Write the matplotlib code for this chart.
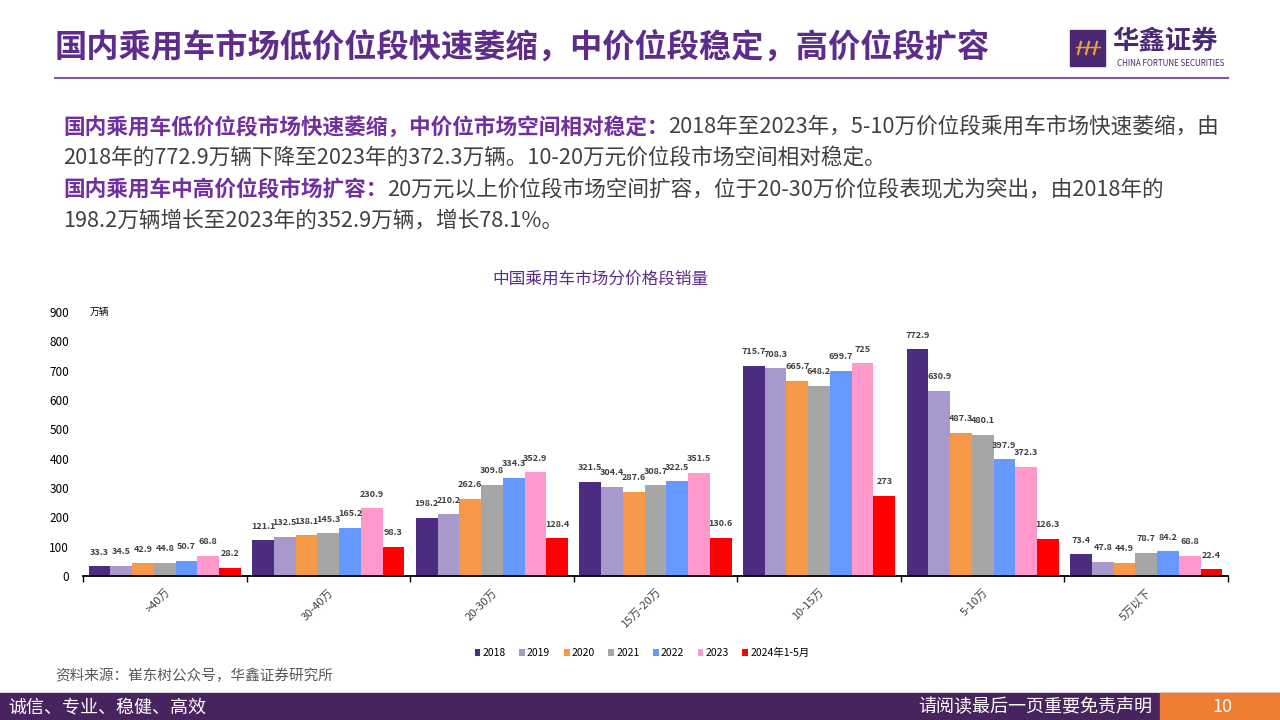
import matplotlib.pyplot as plt
import numpy as np
from matplotlib.patches import Rectangle

plt.rcParams['font.family'] = ['Noto Sans CJK SC', 'DejaVu Sans']

# data
categories = [">40万", "30-40万", "20-30万", "15万-20万", "10-15万", "5-10万", "5万以下"]
series_names = ["2018", "2019", "2020", "2021", "2022", "2023", "2024年1-5月"]
v2018 = [33.3, 121.1, 198.2, 321.5, 715.7, 772.9, 73.4]
v2019 = [34.5, 132.5, 210.2, 304.4, 708.3, 630.9, 47.8]
v2020 = [42.9, 138.1, 262.6, 287.6, 665.7, 487.3, 44.9]
v2021 = [44.8, 145.3, 309.8, 308.7, 648.2, 480.1, 78.7]
v2022 = [50.7, 165.2, 334.3, 322.5, 699.7, 397.9, 84.2]
v2023 = [68.8, 230.9, 352.9, 351.5, 725, 372.3, 68.8]
v2024 = [28.2, 98.3, 128.4, 130.6, 273, 126.3, 22.4]
series = [v2018, v2019, v2020, v2021, v2022, v2023, v2024]
colors = ["#4B2C80", "#A899CC", "#F59848", "#A6A6A6", "#6699FF", "#FF99CC", "#FF0000"]
yticks = [0, 100, 200, 300, 400, 500, 600, 700, 800, 900]

purple = "#5E2D8C"
W, H = 1280, 720
fig = plt.figure(figsize=(12.8, 7.2), dpi=100)

# header
fig.text(55/W, 1 - 48/H, "国内乘用车市场低价位段快速萎缩，中价位段稳定，高价位段扩容",
         fontsize=23.2, fontweight='bold', color=purple, va='center', ha='left')
fig.add_artist(plt.Line2D([55/W, 1228/W], [1 - 78/H, 1 - 78/H], color="#7E5AA2", lw=1.5))
fig.add_artist(Rectangle((1070/W, 1 - 66/H), 35/W, 36/H, color="#4A2873", transform=fig.transFigure))
# small logo strokes
for dx in [1078, 1086, 1094]:
    fig.add_artist(plt.Line2D([dx/W, (dx + 3)/W], [1 - 54/H, 1 - 42/H], color="#F0A030", lw=1.6))
    fig.add_artist(plt.Line2D([(dx - 2)/W, (dx + 6)/W], [1 - 47/H, 1 - 47/H], color="#F0A030", lw=1))
fig.text(1112/W, 1 - 41/H, "华鑫证券", fontsize=19, color="#4A2873", fontweight='bold', va='center')
fig.text(1117/W, 1 - 63/H, "CHINA FORTUNE SECURITIES", fontsize=5.8, color="#4A2873", va='center')

# body text
lines = [
    ("国内乘用车低价位段市场快速萎缩，中价位市场空间相对稳定：", "2018年至2023年，5-10万价位段乘用车市场快速萎缩，由"),
    ("", "2018年的772.9万辆下降至2023年的372.3万辆。10-20万元价位段市场空间相对稳定。"),
    ("国内乘用车中高价位段市场扩容：", "20万元以上价位段市场空间扩容，位于20-30万价位段表现尤为突出，由2018年的"),
    ("", "198.2万辆增长至2023年的352.9万辆，增长78.1%。"),
]
ys = [127, 158, 190, 221]
fs_body = 15.6
leads = []
for (lead, rest), y in zip(lines, ys):
    t1 = fig.text(63/W, 1 - y/H, lead, fontsize=fs_body, fontweight='bold', color="#7030A0",
                  va='center', ha='left')
    leads.append((t1, rest, y))
fig.canvas.draw()
renderer = fig.canvas.get_renderer()
for t1, rest, y in leads:
    x1 = t1.get_window_extent(renderer).x1 if t1.get_text() else 63
    fig.text(x1/W, 1 - y/H, rest, fontsize=fs_body, color="#404040", va='center', ha='left')

# chart
ax = fig.add_axes([83/W, 144/H, 1145/W, 264/H])
n = len(series)
group_w = 0.93
bw = group_w / n
x = np.arange(len(categories))
for i, (vals, c, name) in enumerate(zip(series, colors, series_names)):
    pos = x - group_w/2 + bw*(i + 0.5)
    bars = ax.bar(pos, vals, width=bw, color=c, label=name)
    labels = [f"{v:g}" for v in vals]
    ax.bar_label(bars, labels=labels, padding=7, fontsize=6.5, fontweight='bold', color="#404040")

ax.set_xlim(-0.5, len(categories) - 0.5)
ax.set_ylim(0, 900)
ax.set_yticks(yticks)
ax.tick_params(axis='y', length=0, pad=10, labelsize=8.5)
ax.set_xticks(x)
ax.set_xticklabels(categories, rotation=45, ha='right', va='top', rotation_mode='anchor',
                   fontsize=8, color="#404040")
ax.tick_params(axis='x', which='major', length=0, pad=8)
ax.set_xticks(np.arange(len(categories) + 1) - 0.5, minor=True)
ax.tick_params(axis='x', which='minor', length=4, direction='out', width=1)
for s in ['top', 'right', 'left']:
    ax.spines[s].set_visible(False)
ax.spines['bottom'].set_linewidth(1.3)
fig.text(90/W, 1 - 312/H, "万辆", fontsize=7, va='center', ha='left')

fig.text(600/W, 1 - 279/H, "中国乘用车市场分价格段销量", fontsize=12, color="#5E2D8C",
         ha='center', va='center')

handles, labs = ax.get_legend_handles_labels()
fig.legend(handles, labs, loc='center', bbox_to_anchor=(642/W, 1 - 653/H), ncol=7,
           frameon=False, fontsize=7.5, handlelength=0.55, handleheight=0.55, handletextpad=0.2,
           columnspacing=1.3)

# footer
fig.text(55/W, 1 - 676/H, "资料来源：崔东树公众号，华鑫证券研究所", fontsize=10.5, color="#595959",
         va='center')
fig.add_artist(Rectangle((0, 0), 1, 27/H, color="#48245E", transform=fig.transFigure))
fig.add_artist(Rectangle((1160/W, 0), 120/W, 27/H, color="#ED7D31", transform=fig.transFigure))
fig.text(8/W, 13/H, "诚信、专业、稳健、高效", fontsize=13, color="white", va='center')
fig.text(1152/W, 13/H, "请阅读最后一页重要免责声明", fontsize=13, color="white", va='center', ha='right')
fig.text(1222/W, 13/H, "10", fontsize=13, color="white", va='center', ha='center')

fig.savefig("out.png", dpi=100)
